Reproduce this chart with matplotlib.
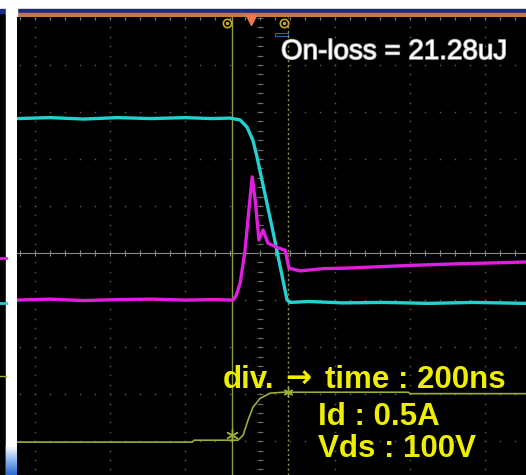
import numpy as np
import matplotlib.pyplot as plt
import matplotlib.patheffects as pe
from matplotlib.patches import Rectangle
from matplotlib.colors import LinearSegmentedColormap

# horizontal: ns (200 ns/div), vertical: screen divisions
x_min, x_max = -648, 709
y_min, y_max = -4.72, 5.02

# Vds trace (cyan)
vds_t = [-648, -560, -470, -380, -290, -200, -130, -80, -53, -35, -19, -8, 32, 72, 80, 130, 220, 330, 450, 570, 709]
vds = [2.86, 2.88, 2.85, 2.88, 2.86, 2.88, 2.86, 2.87, 2.83, 2.68, 2.40, 2.04, 0.55, -1.00, -1.05, -1.03, -1.06, -1.05, -1.07, -1.05, -1.07]

# Id trace (magenta)
id_t = [-648, -560, -470, -380, -290, -200, -120, -72, -64, -53, -40, -29, -21, -13, -3, 8, 21, 45, 67, 77, 107, 170, 232, 320, 408, 520, 620, 709]
id_a = [-1.00, -0.98, -1.01, -0.99, -0.98, -1.00, -0.99, -1.00, -0.91, -0.64, 0.06, 0.98, 1.62, 1.13, 0.28, 0.49, 0.21, 0.12, 0.06, -0.32, -0.38, -0.33, -0.32, -0.29, -0.26, -0.23, -0.21, -0.19]

# Vgs trace (yellow-green)
vgs_t = [-648, -181, -176, -59, -45, -32, -19, 0, 27, 61, 200, 395, 400, 709]
vgs = [-4.02, -4.02, -3.98, -3.98, -3.87, -3.55, -3.28, -3.09, -2.98, -2.96, -2.96, -2.96, -2.99, -2.99]

cursor_a, cursor_b = -75, 75
trig_t = -24
loss_text = "On-loss = 21.28uJ"
info_lines = ["Id : 0.5A", "Vds : 100V"]

W, H = 526, 475
fig = plt.figure(figsize=(W / 100, H / 100), dpi=100)
fig.patch.set_facecolor("black")

# frame around the scope screen, in pixel units
bg = fig.add_axes([0, 0, 1, 1])
bg.axis("off")
bg.add_patch(Rectangle((0, 0), W, 9, color="white"))
bg.add_patch(Rectangle((0, 9), W, 4, color="#1b2a8a"))
bg.add_patch(Rectangle((17, 13), W - 17, 4, color="#c87a34"))
bg.add_patch(Rectangle((6, 0), 11, H, color="white"))
# blue fade at the bottom of the side strip
fade = LinearSegmentedColormap.from_list("fade", ["white", "#8fb8ee", "#2f6fd0"])
for i, y0 in enumerate(range(445, H, 2)):
    bg.add_patch(Rectangle((6, y0), 11, 2.2, color=fade(i / 14)))
bg.plot([0, 6], [258, 258], color="#e020e0", lw=2)
bg.plot([0, 6], [303, 303], color="#22cccc", lw=2)
bg.plot([0, 6], [376, 376], color="#9aae3c", lw=1)
bg.set_xlim(0, W)
bg.set_ylim(H, 0)

ax = fig.add_axes([17 / W, 0, 1 - 17 / W, 1 - 17 / H])
ax.set_facecolor("black")
ax.set_xlim(x_min, x_max)
ax.set_ylim(y_min, y_max)
for s in ax.spines.values():
    s.set_visible(False)
ax.set_xticks([])
ax.set_yticks([])

# dotted graticule
dot = "#5a5a5a"
ys = np.arange(-4.6, 5.01, 0.2)
xs = np.arange(-640, 709, 40)
for k in range(-3, 4):
    if k != 0:
        ax.scatter(np.full(ys.size, k * 200), ys, s=1.4, color=dot, lw=0)
for k in range(-4, 6):
    if k != 0:
        ax.scatter(xs, np.full(xs.size, k), s=1.4, color=dot, lw=0)
ax.axhline(0, color="#8a8a8a", lw=0.8)
ax.vlines(xs, -0.07, 0.07, color="#8a8a8a", lw=0.8)
ax.scatter(np.zeros(ys.size), ys, s=1.2, color="#777777", lw=0)
ax.hlines(ys, -8, 8, color="#6a6a6a", lw=0.8)
ax.vlines(xs, y_max - 0.07, y_max, color="#777777", lw=0.8)

# cursors
cur_col = "#8c9c3c"
ax.axvline(cursor_a, color=cur_col, lw=1)
ax.axvline(cursor_b, color=cur_col, lw=1, ls=(0, (1.5, 2)))

ax.plot(vds_t, vds, color="#25d0d0", lw=2.4, zorder=4)
ax.plot(id_t, id_a, color="#e01ee0", lw=2.4, zorder=5)
ax.plot(vgs_t, vgs, color="#9aae3c", lw=1.2, zorder=4)
ax.plot([cursor_a], [vgs[4]], marker=(6, 2, 0), ms=9, color="#9aae3c", mew=1, zorder=6)
ax.plot([cursor_b], [vgs[9]], marker=(6, 2, 0), ms=7, color="#9aae3c", mew=1, zorder=6)

# cursor / trigger flags on the top edge
for c in (cursor_a, cursor_b):
    ax.plot([c - 12], [y_max - 0.13], marker="o", ms=6, mfc="none", mec="#c8a820", mew=1.2, clip_on=False)
    ax.plot([c - 12], [y_max - 0.13], marker=".", ms=3, color="#c8a820", clip_on=False)
ax.plot([trig_t], [y_max - 0.06], marker="v", ms=7, color="#f07850", clip_on=False)
ax.add_patch(Rectangle((40, 4.62), 35, 0.06, fill=False, ec="#3060b0", lw=0.8))

fig.text(281 / W, 1 - 59 / H, loss_text, color="white", fontsize=20,
         family=["Liberation Sans", "DejaVu Sans"], ha="left", va="baseline",
         path_effects=[pe.withStroke(linewidth=1.2, foreground="#a0a0a0")])

yel = "#eeee00"
font = dict(color=yel, fontsize=22.5, fontweight="bold", ha="left", va="baseline")
fig.text(223 / W, 1 - 388 / H, "div.", family="Liberation Sans", **font)
fig.text(285 / W, 1 - 388 / H, "\u2192", family="DejaVu Sans", **font)
fig.text(325 / W, 1 - 388 / H, "time : 200ns", family="Liberation Sans", **font)
for txt, py in zip(info_lines, [425, 457]):
    fig.text(318 / W, 1 - py / H, txt, family="Liberation Sans", **font)

plt.savefig("out.png", dpi=100, facecolor="black")
